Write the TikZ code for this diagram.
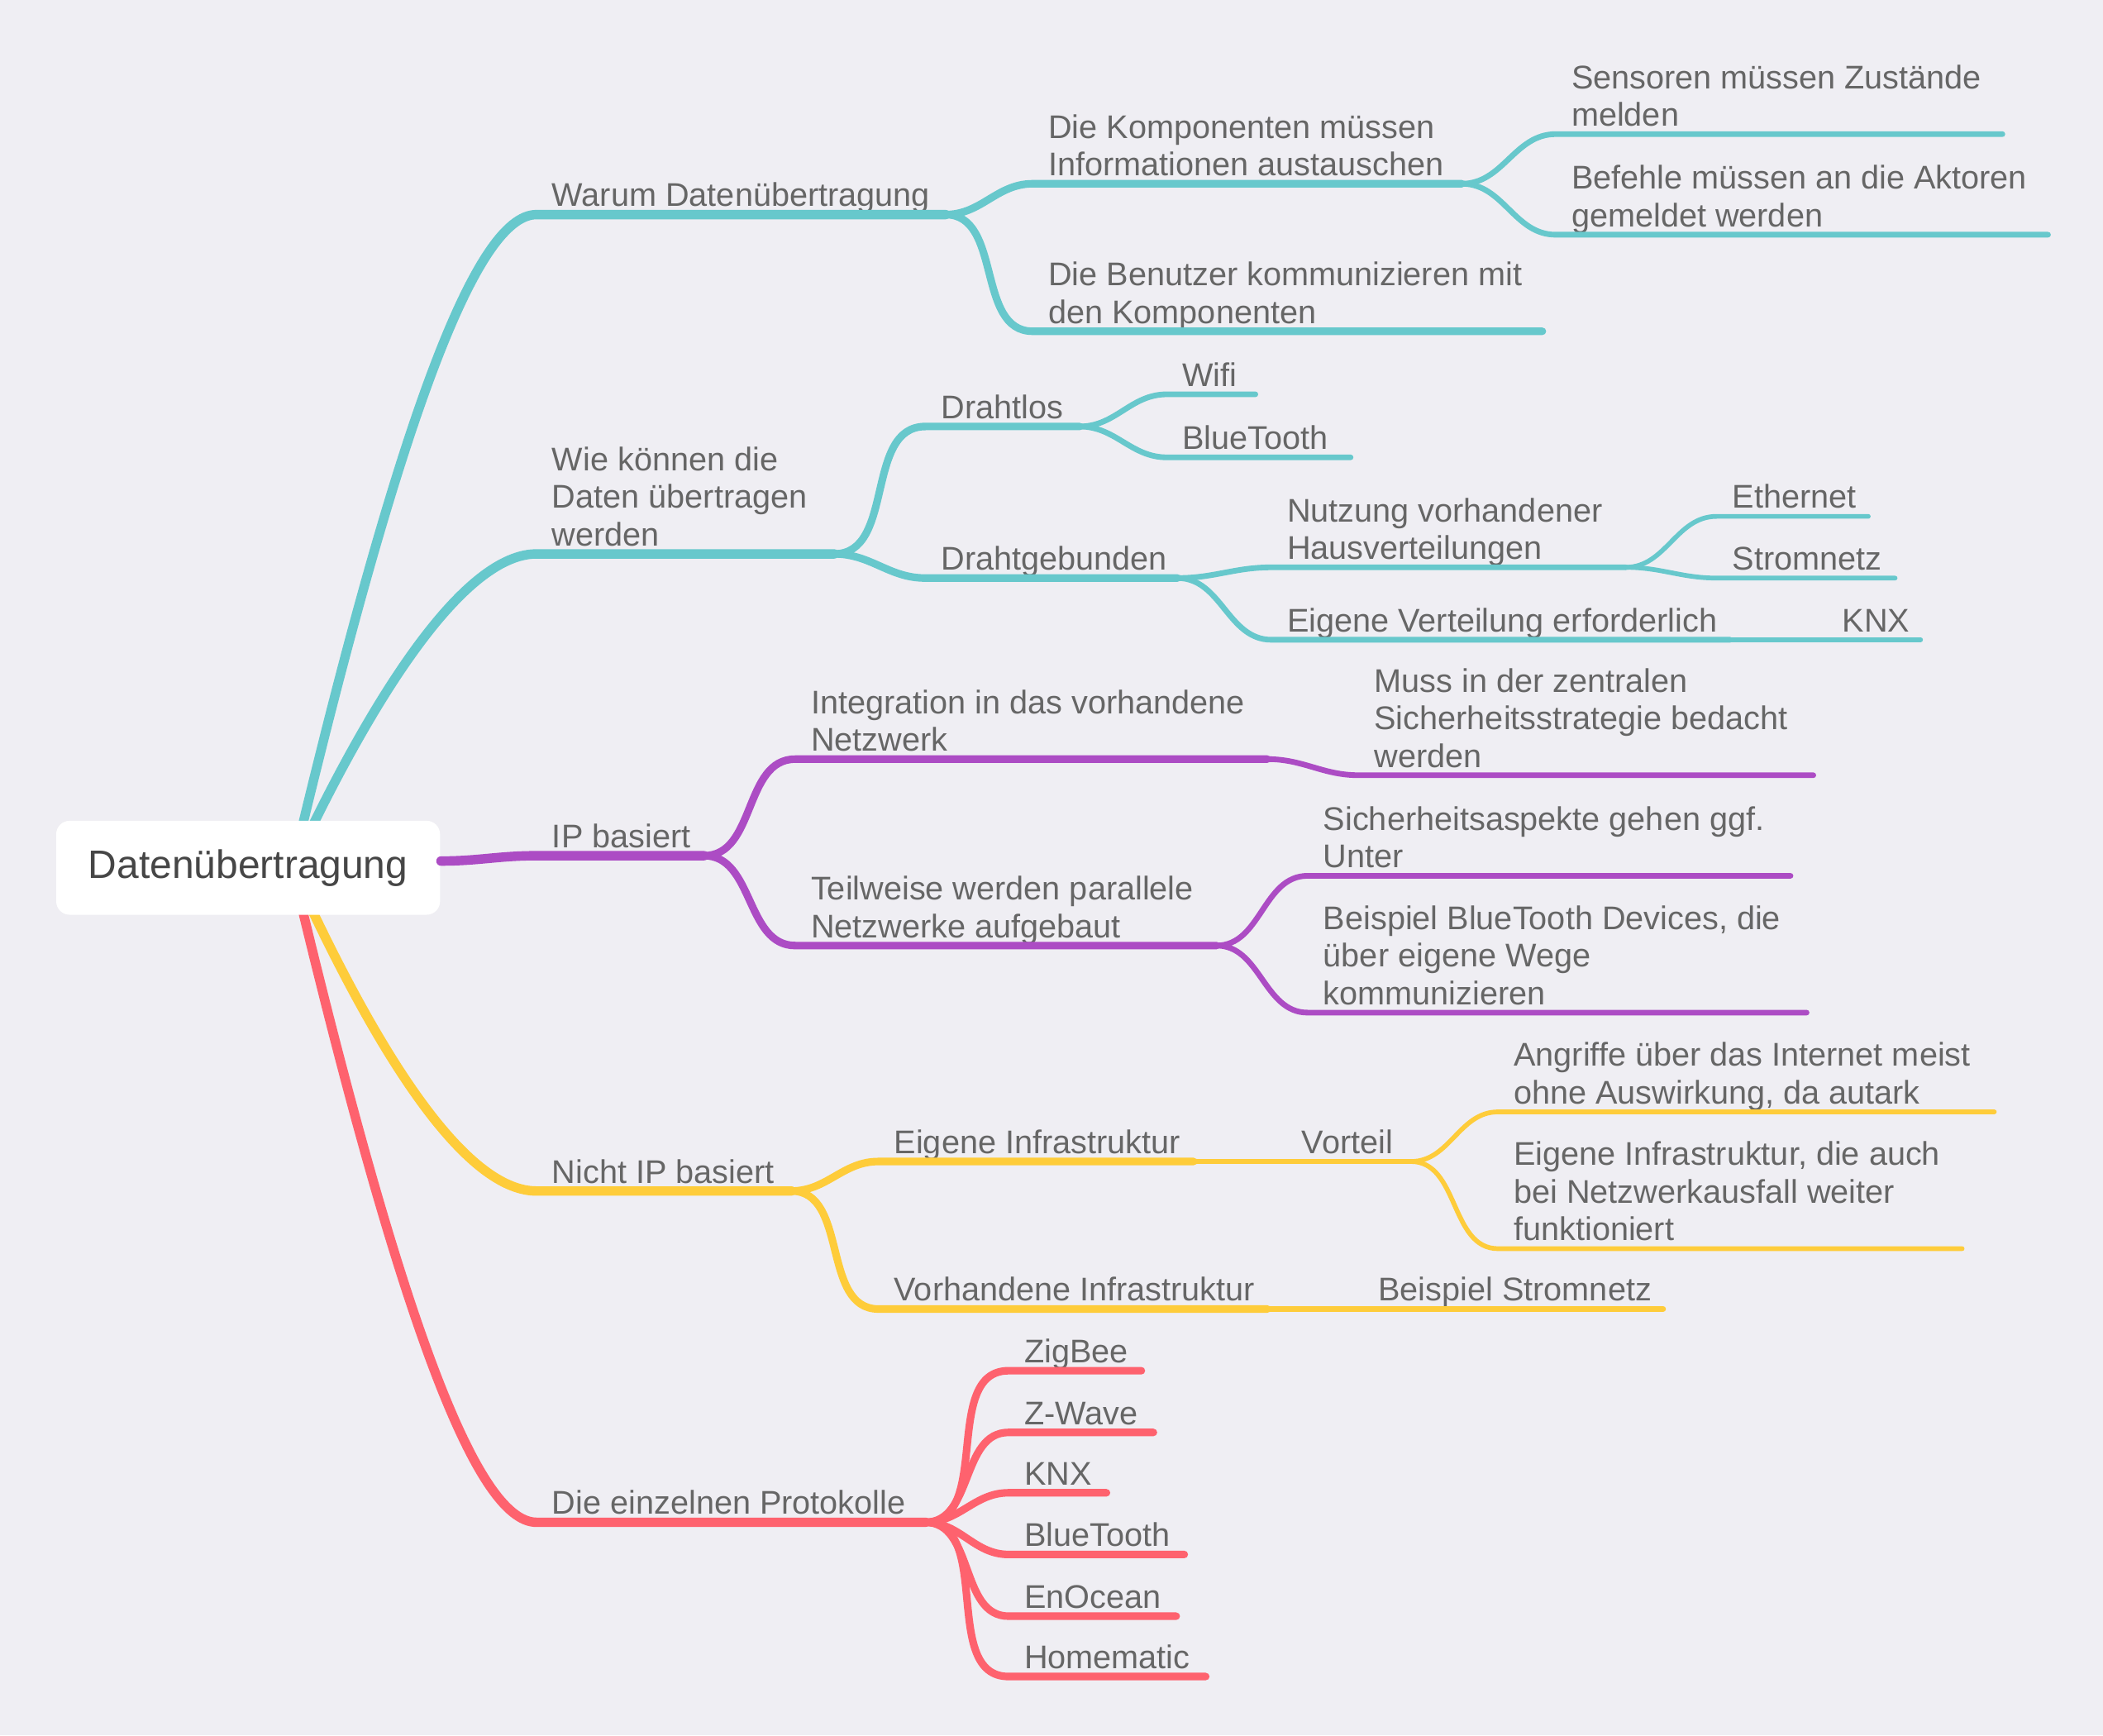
\documentclass[tikz,border=0pt]{standalone}
\usepackage{fontspec}
\setmainfont{Liberation Sans}
\definecolor{paper}{RGB}{239,238,243}
\definecolor{tealb}{RGB}{103,200,204}
\definecolor{plumb}{RGB}{172,76,196}
\definecolor{sunb}{RGB}{254,204,58}
\definecolor{coralb}{RGB}{254,98,110}
\definecolor{inktext}{RGB}{102,102,102}
\definecolor{inkroot}{RGB}{70,70,70}
\newcommand{\linestrut}{\rule[-1.5pt]{0pt}{5pt}}
\tikzset{
  topic/.style={anchor=south west, inner xsep=0.11cm, inner ysep=0pt, align=left,
    text=inktext, font=\fontsize{6.95}{7.97}\selectfont, execute at end node=\linestrut},
  rootbox/.style={fill=white, rounded corners=0.1cm, minimum width=2.86cm,
    minimum height=0.7cm, text=inkroot, font=\fontsize{8.4}{10}\selectfont},
  lv1/.style={line width=2pt, line cap=round},
  lv2/.style={line width=1.6pt, line cap=round},
  lv3/.style={line width=1.2pt, line cap=round},
  lv4/.style={line width=1pt, line cap=round},
  link/.style={out=0, in=180}
}
\begin{document}
\begin{tikzpicture}[x=0.01cm, y=-0.01cm]
\fill[paper] (0,0) rectangle (1568,1294);
\coordinate (hub) at (218,647);
% main branches
\node (warum) [topic] at (400,160) {Warum Datenübertragung};
\node (wie) [topic] at (400,413) {Wie können die\\Daten übertragen\\werden};
\node (ip) [topic] at (400,638) {IP basiert};
\node (nichtip) [topic] at (400,888) {Nicht IP basiert};
\node (proto) [topic] at (400,1135) {Die einzelnen Protokolle};
\draw[tealb, lv1] (hub) .. controls +(78,-328) and +(-46,0) .. (warum.south west) -- ++(305,0) coordinate (warum-e);
\draw[tealb, lv1] (hub) .. controls +(75,-160) and +(-45,0) .. (wie.south west) -- ++(222,0) coordinate (wie-e);
\draw[sunb, lv1] (hub) .. controls +(75,165) and +(-46,0) .. (nichtip.south west) -- ++(190,0) coordinate (nichtip-e);
\draw[coralb, lv1] (hub) .. controls +(78,328) and +(-46,0) .. (proto.south west) -- ++(290,0) coordinate (proto-e);
\node (root) [rootbox] at (185,647) {Datenübertragung};
\draw[plumb, lv1] (root.2) to[link] (ip.south west) -- ++(125,0) coordinate (ip-e);

% Warum Datenuebertragung
\node (komp) [topic] at (770,137) {Die Komponenten müssen\\Informationen austauschen};
\node (benutzer) [topic] at (770,247) {Die Benutzer kommunizieren mit\\den Komponenten};
\node (sensoren) [topic] at (1160,100) {Sensoren müssen Zustände\\melden};
\node (befehle) [topic] at (1160,175) {Befehle müssen an die Aktoren\\gemeldet werden};
\draw[tealb, lv2] (warum-e) to[link] (komp.south west) -- ++(320,0) coordinate (komp-e);
\draw[tealb, lv2] (warum-e) to[link] (benutzer.south west) -- ++(380,0);
\draw[tealb, lv3] (komp-e) to[link] (sensoren.south west) -- ++(333,0);
\draw[tealb, lv3] (komp-e) to[link] (befehle.south west) -- ++(367,0);

% Wie koennen die Daten uebertragen werden
\node (drahtlos) [topic] at (690,318) {Drahtlos};
\node (drahtgeb) [topic] at (690,431) {Drahtgebunden};
\node (wifi) [topic] at (870,294) {Wifi};
\node (bt) [topic] at (870,341) {BlueTooth};
\node (nutzung) [topic] at (948,423) {Nutzung vorhandener\\Hausverteilungen};
\node (eigvert) [topic] at (948,477) {Eigene Verteilung erforderlich};
\node (ethernet) [topic] at (1280,385) {Ethernet};
\node (stromnetz) [topic] at (1280,431) {Stromnetz};
\node (knx) [topic] at (1362,477) {KNX};
\draw[tealb, lv2] (wie-e) to[link] (drahtlos.south west) -- ++(115,0) coordinate (drahtlos-e);
\draw[tealb, lv2] (wie-e) to[link] (drahtgeb.south west) -- ++(188,0) coordinate (drahtgeb-e);
\draw[tealb, lv3] (drahtlos-e) to[link] (wifi.south west) -- ++(66,0);
\draw[tealb, lv3] (drahtlos-e) to[link] (bt.south west) -- ++(137,0);
\draw[tealb, lv3] (drahtgeb-e) to[link] (nutzung.south west) -- ++(264,0) coordinate (nutzung-e);
\draw[tealb, lv3] (drahtgeb-e) to[link] (eigvert.south west) -- ++(342,0) coordinate (eigvert-e);
\draw[tealb, lv4] (nutzung-e) to[link] (ethernet.south west) -- ++(113,0);
\draw[tealb, lv4] (nutzung-e) to[link] (stromnetz.south west) -- ++(133,0);
\draw[tealb, lv4] (eigvert-e) to[link] (knx.south west) -- ++(70,0);

% IP basiert
\node (integ) [topic] at (593,566) {Integration in das vorhandene\\Netzwerk};
\node (teilw) [topic] at (593,705) {Teilweise werden parallele\\Netzwerke aufgebaut};
\node (muss) [topic] at (1013,578) {Muss in der zentralen\\Sicherheitsstrategie bedacht\\werden};
\node (sicher) [topic] at (975,653) {Sicherheitsaspekte gehen ggf.\\Unter};
\node (bspbt) [topic] at (975,755) {Beispiel BlueTooth Devices, die\\über eigene Wege\\kommunizieren};
\draw[plumb, lv2] (ip-e) to[link] (integ.south west) -- ++(352,0) coordinate (integ-e);
\draw[plumb, lv2] (ip-e) to[link] (teilw.south west) -- ++(314,0) coordinate (teilw-e);
\draw[plumb, lv3] (integ-e) to[link] (muss.south west) -- ++(339,0);
\draw[plumb, lv3] (teilw-e) to[link] (sicher.south west) -- ++(360,0);
\draw[plumb, lv3] (teilw-e) to[link] (bspbt.south west) -- ++(372,0);

% Nicht IP basiert
\node (eiginfra) [topic] at (655,866) {Eigene Infrastruktur};
\node (vorhinfra) [topic] at (655,976) {Vorhandene Infrastruktur};
\node (vorteil) [topic] at (959,866) {Vorteil};
\node (bspstrom) [topic] at (1016,976) {Beispiel Stromnetz};
\node (angriffe) [topic] at (1117,829) {Angriffe über das Internet meist\\ohne Auswirkung, da autark};
\node (ausfall) [topic] at (1117,931) {Eigene Infrastruktur, die auch\\bei Netzwerkausfall weiter\\funktioniert};
\draw[sunb, lv2] (nichtip-e) to[link] (eiginfra.south west) -- ++(235,0) coordinate (eiginfra-e);
\draw[sunb, lv2] (nichtip-e) to[link] (vorhinfra.south west) -- ++(290,0) coordinate (vorhinfra-e);
\draw[sunb, lv3] (eiginfra-e) to[link] (vorteil.south west) -- ++(93,0) coordinate (vorteil-e);
\draw[sunb, lv3] (vorhinfra-e) to[link] (bspstrom.south west) -- ++(224,0);
\draw[sunb, lv4] (vorteil-e) to[link] (angriffe.south west) -- ++(370,0);
\draw[sunb, lv4] (vorteil-e) to[link] (ausfall.south west) -- ++(346,0);

% Die einzelnen Protokolle
\node (zigbee) [topic] at (752,1022) {ZigBee};
\node (zwave) [topic] at (752,1068) {Z-Wave};
\node (knxp) [topic] at (752,1113) {KNX};
\node (btp) [topic] at (752,1159) {BlueTooth};
\node (enocean) [topic] at (752,1205) {EnOcean};
\node (homematic) [topic] at (752,1250) {Homematic};
\draw[coralb, lv2] (proto-e) to[link] (zigbee.south west) -- ++(99,0);
\draw[coralb, lv2] (proto-e) to[link] (zwave.south west) -- ++(108,0);
\draw[coralb, lv2] (proto-e) to[link] (knxp.south west) -- ++(73,0);
\draw[coralb, lv2] (proto-e) to[link] (btp.south west) -- ++(131,0);
\draw[coralb, lv2] (proto-e) to[link] (enocean.south west) -- ++(125,0);
\draw[coralb, lv2] (proto-e) to[link] (homematic.south west) -- ++(147,0);
\end{tikzpicture}
\end{document}
